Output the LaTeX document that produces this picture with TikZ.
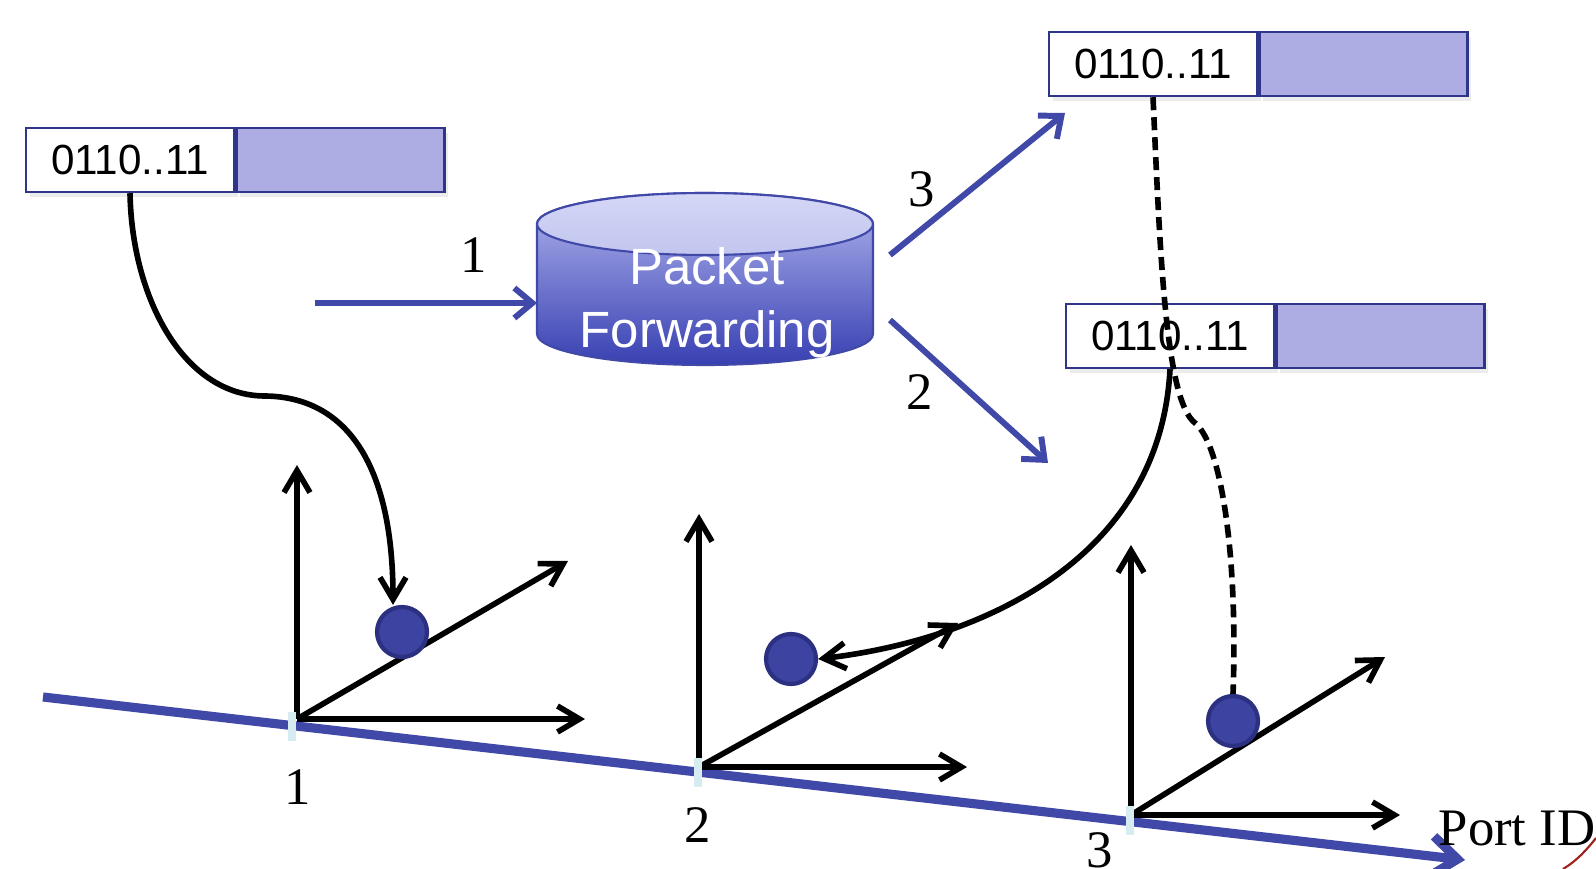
\documentclass[tikz,border=0pt]{standalone}
\usepackage{fontspec}
\setmainfont{Liberation Serif}
\newfontfamily\boxfont{Liberation Sans}
\usepackage{tikz}
\usetikzlibrary{positioning,arrows.meta,shadows}
\definecolor{palBlue}{HTML}{4048A8}
\definecolor{palNavy}{HTML}{2F3689}
\definecolor{palLav}{HTML}{ADADE4}
\definecolor{palDot}{HTML}{3C43A0}
\definecolor{palDotRim}{HTML}{2B3180}
\definecolor{palTick}{HTML}{D6ECF0}
\definecolor{palCylTop}{HTML}{D4D7F6}
\definecolor{palCylTopDk}{HTML}{C2C5EE}
\definecolor{palCylLt}{HTML}{B2B6EE}
\definecolor{palCylDk}{HTML}{3840B2}
\definecolor{palRedDk}{HTML}{A0201C}
\tikzset{
  rulebox/.style={draw=palNavy, line width=0.7pt, fill=white, minimum width=20.8mm,
                  minimum height=6.4mm, inner sep=0pt,
                  font=\boxfont\fontsize{12}{14}\selectfont,
                  drop shadow={opacity=0.15, shadow xshift=0.4mm, shadow yshift=-0.5mm}},
  actbox/.style={rulebox, fill=palLav},
  cyltext/.style={align=center, text=white, inner sep=0pt,
                  font=\boxfont\fontsize{14.5}{18}\selectfont},
  dotnode/.style={circle, fill=palDot, draw=palDotRim, line width=1.2pt,
                  minimum size=5mm, inner sep=0pt},
  porttick/.style={rectangle, fill=palTick, minimum width=0.8mm,
                   minimum height=2.9mm, inner sep=0pt},
  numlabel/.style={font=\fontsize{15}{18}\selectfont, inner sep=0pt, anchor=base},
  fwdarrow/.style={-{Straight Barb[length=1.8mm, width=3mm]}, line width=1.7pt,
                   draw=palBlue},
  axisline/.style={-{Straight Barb[length=2.6mm, width=4mm]}, line width=2.6pt,
                   draw=palBlue},
  axisarrow/.style={-{Straight Barb[length=2.2mm, width=2.6mm]}, line width=1.6pt},
  linkarrow/.style={-{Straight Barb[length=2.2mm, width=2.6mm]}, line width=1.6pt},
  dashlink/.style={line width=1.6pt, dash pattern=on 1.3mm off 0.7mm},
}
\begin{document}
\begin{tikzpicture}[x=0.1mm, y=-0.1mm]
\useasboundingbox (0,0) rectangle (1596,869);
%% Port axis
\coordinate (axStart) at (43,697);
\coordinate (axEnd) at (1465,860);
\draw[axisline] (axStart) -- (axEnd);
%% Per-port axes
\coordinate (o1) at (297,719);
\coordinate (z1) at (297,465);
\coordinate (x1) at (585,719);
\coordinate (y1) at (568,561);
\coordinate (o2) at (699,767);
\coordinate (z2) at (699,514);
\coordinate (x2) at (967,767);
\coordinate (y2) at (958,623);
\coordinate (o3) at (1131,815);
\coordinate (z3) at (1131,545);
\coordinate (x3) at (1400,815);
\coordinate (y3) at (1385,657);
\draw[axisarrow] (o1) -- (z1);
\draw[axisarrow] (o1) -- (x1);
\draw[axisarrow] (o1) -- (y1);
\draw[axisarrow] (o2) -- (z2);
\draw[axisarrow] (o2) -- (x2);
\draw[axisarrow] (o2) -- (y2);
\draw[axisarrow] (o3) -- (z3);
\draw[axisarrow] (o3) -- (x3);
\draw[axisarrow] (o3) -- (y3);
\node[porttick] (p1) at (292,726) {};
\node[porttick] (p2) at (698,772) {};
\node[porttick] (p3) at (1130,820) {};
%% Port labels
\node[numlabel] (lblP1) at (298,804) {1};
\node[numlabel] (lblP2) at (698,842) {2};
\node[numlabel] (lblP3) at (1100,867) {3};
\node[numlabel, anchor=base west] (lblPort) at (1438,845) {Port ID};
%% Entries
\node[dotnode] (dot1) at (402,632) {};
\node[dotnode] (dot2) at (791,659) {};
\node[dotnode] (dot3) at (1233,721) {};
%% Forwarding table
\shadedraw[top color=palCylLt, bottom color=palCylDk, draw=palBlue, line width=0.6pt]
  (537,224) -- (537,334) arc[start angle=180, end angle=360, x radius=16.8mm, y radius=3.1mm]
  -- (873,224) arc[start angle=0, end angle=180, x radius=16.8mm, y radius=3.1mm] -- cycle;
\shadedraw[top color=palCylTop, bottom color=palCylTopDk, draw=palBlue, line width=0.6pt]
  (705,224) ellipse [x radius=16.8mm, y radius=3.1mm];
\node[cyltext] (pf) at (707,303) {Packet\\Forwarding};
%% Rules
\node[rulebox] (ruleL) at (130,160) {0110..11};
\node[actbox, right=0pt of ruleL] (actL) {};
\node[rulebox] (ruleT) at (1153,64) {0110..11};
\node[actbox, right=0pt of ruleT] (actT) {};
\node[rulebox] (ruleM) at (1170,336) {0110..11};
\node[actbox, right=0pt of ruleM] (actM) {};
%% Flow of a packet
\coordinate (fwdIn) at (315,303);
\coordinate (pfIn) at (537,303);
\coordinate (pfOutA) at (890,255);
\coordinate (pfOutB) at (890,320);
\coordinate (toTop) at (1065,113);
\coordinate (toMid) at (1048,463);
\draw[fwdarrow] (fwdIn) -- (pfIn);
\draw[fwdarrow] (pfOutA) -- (toTop);
\draw[fwdarrow] (pfOutB) -- (toMid);
\node[numlabel] (lblIn) at (474,273) {1};
\node[numlabel] (lblTop) at (922,207) {3};
\node[numlabel] (lblMid) at (920,410) {2};
%% Rule to entry links
\draw[linkarrow] (ruleL.south) .. controls (132,300) and (185,396) .. (265,396)
  .. controls (350,397) and (393,470) .. ([xshift=-0.9mm]dot1.north);
\draw[linkarrow] (ruleM.south) .. controls (1160,560) and (980,640) .. (dot2.east);
\draw[dashlink] (ruleT.south) .. controls (1160,250) and (1165,400) .. (1195,423)
  .. controls (1222,445) and (1238,560) .. (dot3.north);
%% Corner mark
\coordinate (redA) at (1563,869);
\coordinate (redB) at (1596,838);
\draw[palRedDk, line width=0.6pt] (redA) .. controls (1578,860) and (1588,848) .. (redB);
\end{tikzpicture}
\end{document}
